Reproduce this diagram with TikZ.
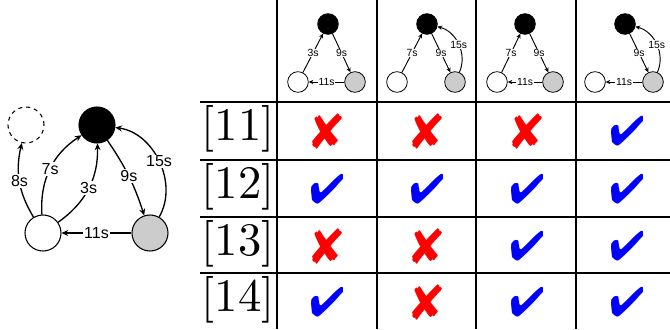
\documentclass[tikz,border=0pt]{standalone}
\usepackage{fontspec}
\setsansfont{Liberation Sans}
\newfontfamily\reffont{lmroman10-regular}[Extension=.otf]
\usepackage{pifont}
\usetikzlibrary{arrows.meta}

\definecolor{nodegray}{RGB}{204,204,204}
\definecolor{yesblue}{RGB}{0,0,255}
\definecolor{nored}{RGB}{255,0,0}

\newcommand{\yesmark}{\textcolor{yesblue}{\fontsize{31}{31}\selectfont\ding{52}}}
\newcommand{\nomark}{\textcolor{nored}{\fontsize{37}{37}\selectfont\ding{56}}}

\tikzset{
  bignode/.style={circle, draw, line width=0.8pt, minimum size=27pt, inner sep=0pt},
  smallnode/.style={circle, draw, line width=0.6pt, minimum size=15.5pt, inner sep=0pt},
  bigedge/.style={-{Stealth[length=5pt,width=4.5pt]}, line width=1pt},
  smalledge/.style={-{Stealth[length=3.5pt,width=3.2pt]}, line width=0.7pt},
  biglab/.style={fill=white, inner sep=1pt, font=\sffamily\fontsize{12}{13}\selectfont},
  smalllab/.style={fill=white, inner sep=0.6pt, font=\sffamily\fontsize{7.8}{8}\selectfont},
  tableline/.style={line width=1.1pt},
  reflab/.style={font=\reffont\fontsize{35}{35}\selectfont, inner sep=0pt},
  markcell/.style={inner sep=0pt},
}

\begin{document}
\begin{tikzpicture}[x=0.75pt, y=-0.75pt]
  \useasboundingbox (0,0) rectangle (670,329);

  % --- left graph: four states ---
  \node[bignode, dashed]            (d) at (26,125) {};
  \node[bignode, fill=black]        (b) at (97,125) {};
  \node[bignode, fill=white]        (w) at (43,233) {};
  \node[bignode, fill=nodegray]     (g) at (150,233) {};

  % --- left graph: transitions with their times ---
  \draw[bigedge] (w) to[bend left=22] node[biglab] {8s} (d);
  \draw[bigedge] (w) to[bend left=30] node[biglab] {7s} (b);
  \draw[bigedge] (w) to[bend right=28] node[biglab] {3s} (b);
  \draw[bigedge] (b) to[bend left=8] node[biglab] {9s} (g);
  \draw[bigedge] (g) to[bend right=56] node[biglab] {15s} (b);
  \draw[bigedge] (g) -- node[biglab] {11s} (w);

  % --- table rules ---
  \foreach \x in {277,377,476,576}
    \draw[tableline] (\x,0) -- (\x,329);
  \foreach \y in {102,160,217,273}
    \draw[tableline] (200,\y) -- (670,\y);

  % --- header graphs, one per column ---
  \begin{scope}[shift={(328,24)}]
    \node[smallnode, fill=black]    (b1) at (0,0) {};
    \node[smallnode, fill=white]    (w1) at (-30,58) {};
    \node[smallnode, fill=nodegray] (g1) at (27,58) {};
    \draw[smalledge] (w1) -- node[smalllab] {3s} (b1);
    \draw[smalledge] (b1) -- node[smalllab] {9s} (g1);
    \draw[smalledge] (g1) -- node[smalllab] {11s} (w1);
  \end{scope}
  \begin{scope}[shift={(427,24)}]
    \node[smallnode, fill=black]    (b2) at (0,0) {};
    \node[smallnode, fill=white]    (w2) at (-30,58) {};
    \node[smallnode, fill=nodegray] (g2) at (28,58) {};
    \draw[smalledge] (w2) -- node[smalllab] {7s} (b2);
    \draw[smalledge] (b2) -- node[smalllab] {9s} (g2);
    \draw[smalledge] (g2) to[bend right=50] node[smalllab] {15s} (b2);
  \end{scope}
  \begin{scope}[shift={(525,24)}]
    \node[smallnode, fill=black]    (b3) at (0,0) {};
    \node[smallnode, fill=white]    (w3) at (-28,58) {};
    \node[smallnode, fill=nodegray] (g3) at (28,58) {};
    \draw[smalledge] (w3) -- node[smalllab] {7s} (b3);
    \draw[smalledge] (b3) -- node[smalllab] {9s} (g3);
    \draw[smalledge] (g3) -- node[smalllab] {11s} (w3);
  \end{scope}
  \begin{scope}[shift={(625,24)}]
    \node[smallnode, fill=black]    (b4) at (0,0) {};
    \node[smallnode, fill=white]    (w4) at (-30,58) {};
    \node[smallnode, fill=nodegray] (g4) at (28,58) {};
    \draw[smalledge] (b4) -- node[smalllab] {9s} (g4);
    \draw[smalledge] (g4) to[bend right=50] node[smalllab] {15s} (b4);
    \draw[smalledge] (g4) -- node[smalllab] {11s} (w4);
  \end{scope}

  % --- rows: reference label, then one mark per column ---
  \foreach \lab/\y/\marks in {11/131/{\nomark,\nomark,\nomark,\yesmark},
                              12/189/{\yesmark,\yesmark,\yesmark,\yesmark},
                              13/246/{\nomark,\nomark,\yesmark,\yesmark},
                              14/302/{\yesmark,\nomark,\yesmark,\yesmark}} {
    \node[reflab] (r\lab) at (238,\y-2) {[\lab]};
    \foreach \m [count=\c] in \marks
      \node[markcell] (m\lab-\c) at (227+100*\c,\y) {\m};
  }
\end{tikzpicture}
\end{document}
